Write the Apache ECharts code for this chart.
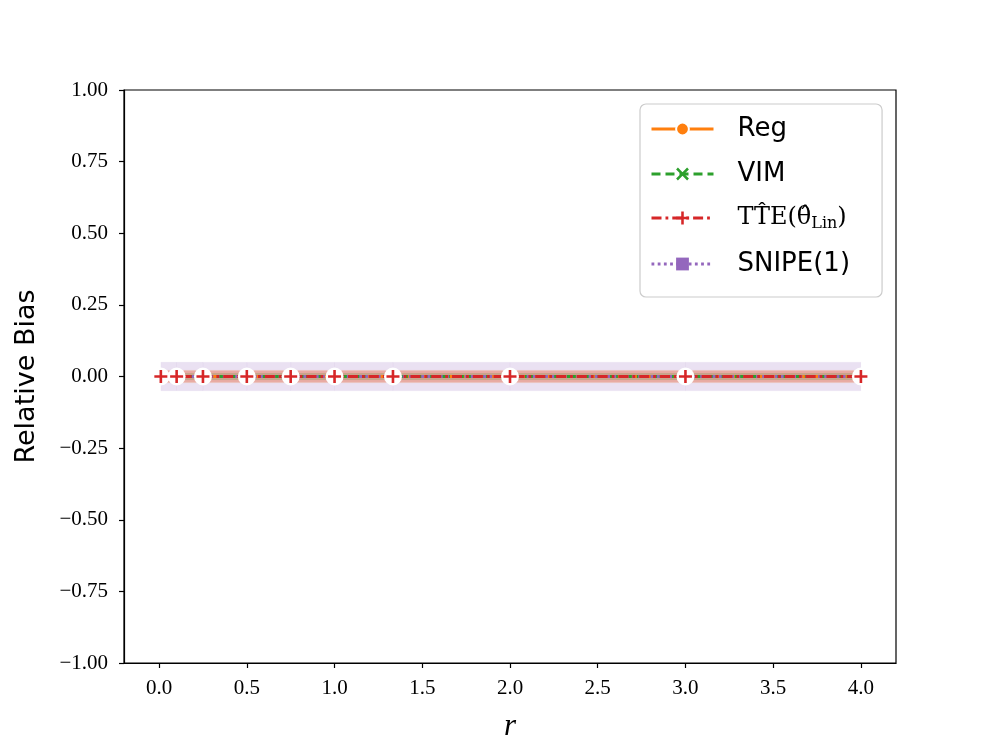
<!DOCTYPE html>
<html>
<head>
<meta charset="utf-8">
<script src="https://cdn.jsdelivr.net/npm/echarts@6/dist/echarts.min.js"></script>
<style>html,body{margin:0;padding:0;background:#fff;}#c{width:996px;height:747px;}</style>
</head>
<body>
<div id="c"></div>
<script>
// ---- data ----
var rValues = [0.01, 0.1, 0.25, 0.5, 0.75, 1.0, 1.333, 2.0, 3.0, 4.0];
var regBias   = [0, 0, 0, 0, 0, 0, 0, 0, 0, 0];
var vimBias   = [0, 0, 0, 0, 0, 0, 0, 0, 0, 0];
var tteBias   = [0, 0, 0, 0, 0, 0, 0, 0, 0, 0];
var snipeBias = [0, 0, 0, 0, 0, 0, 0, 0, 0, 0];
// band half-widths (uncertainty bands)
var regBand   = [0.022, 0.022, 0.022, 0.022, 0.022, 0.022, 0.022, 0.022, 0.022, 0.022];
var vimBand   = [0.012, 0.012, 0.012, 0.012, 0.012, 0.012, 0.012, 0.012, 0.012, 0.012];
var tteBand   = [0.02, 0.02, 0.02, 0.02, 0.02, 0.02, 0.02, 0.02, 0.02, 0.02];
var snipeBand = [0.05, 0.05, 0.05, 0.05, 0.05, 0.05, 0.05, 0.05, 0.05, 0.05];
var xTicks = [0, 0.5, 1.0, 1.5, 2.0, 2.5, 3.0, 3.5, 4.0];
var yTicks = [-1, -0.75, -0.5, -0.25, 0, 0.25, 0.5, 0.75, 1];

var COLORS = {reg:'#ff7f0e', vim:'#2ca02c', tte:'#d62728', snipe:'#9467bd'};
var serif = 'Liberation Serif';
var sans = 'DejaVu Sans';

function pairs(ys){ return rValues.map(function(x,i){ return [x, ys[i]]; }); }

function bandSeries(mean, half, color, opacity){
  var data = rValues.map(function(x,i){ return [x, mean[i]-half[i], mean[i]+half[i]]; });
  return {
    type:'custom', silent:true, z:1,
    data: data,
    encode:{x:0, y:[1,2]},
    renderItem: function(params, api){
      var i = params.dataIndex;
      if (i >= data.length-1) return null;
      var a = api.coord([data[i][0], data[i][1]]);
      var b = api.coord([data[i][0], data[i][2]]);
      var c = api.coord([data[i+1][0], data[i+1][2]]);
      var d = api.coord([data[i+1][0], data[i+1][1]]);
      return {type:'polygon', shape:{points:[a,b,c,d]},
              style:{fill: color, opacity: opacity, stroke: color, lineWidth: 0.6, strokeOpacity: 0.25}};
    }
  };
}

var plusPath = 'path://M-1.2,-6 L1.2,-6 L1.2,-1.2 L6,-1.2 L6,1.2 L1.2,1.2 L1.2,6 L-1.2,6 L-1.2,1.2 L-6,1.2 L-6,-1.2 L-1.2,-1.2 Z';
var crossPath = 'path://M-5,-3.6 L-3.6,-5 L0,-1.4 L3.6,-5 L5,-3.6 L1.4,0 L5,3.6 L3.6,5 L0,1.4 L-3.6,5 L-5,3.6 L-1.4,0 Z';

var chart = echarts.init(document.getElementById('c'), null, {renderer:'canvas'});
var option = {
  animation:false,
  backgroundColor:'#fff',
  grid:{left:124, right:100, top:90, bottom:83, show:true, borderColor:'#000', borderWidth:1.2, backgroundColor:'transparent'},
  xAxis:{
    type:'value', min:-0.2, max:4.2,
    name:'r', nameLocation:'middle', nameGap:48,
    nameTextStyle:{fontFamily:serif, fontStyle:'italic', fontSize:31, color:'#000'},
    axisLine:{show:true, onZero:false, lineStyle:{color:'#000', width:1.2}},
    axisTick:{show:true, customValues:xTicks, length:5, lineStyle:{color:'#000', width:1.2}},
    axisLabel:{customValues:xTicks, margin:15, fontFamily:serif, fontSize:21, color:'#000',
      formatter:function(v){ return v.toFixed(1); }},
    splitLine:{show:false}
  },
  yAxis:{
    type:'value', min:-1, max:1, interval:0.25,
    name:'Relative Bias', nameLocation:'middle', nameGap:84,
    nameTextStyle:{fontFamily:sans, fontSize:27, color:'#000'},
    axisLine:{show:true, onZero:false, lineStyle:{color:'#000', width:1.2}},
    axisTick:{show:true, length:5, lineStyle:{color:'#000', width:1.2}},
    axisLabel:{margin:16, fontFamily:serif, fontSize:21, color:'#000',
      formatter:function(v){ var s=v.toFixed(2); return v<0 ? '\u2212'+s.slice(1) : s; }},
    splitLine:{show:false}
  },
  legend:{
    orient:'vertical', left:640, top:104,
    padding:[12,32,20,10],
    itemWidth:62, itemHeight:16, itemGap:19,
    backgroundColor:'rgba(255,255,255,0.8)', borderColor:'#cccccc', borderWidth:1.2, borderRadius:6,
    data:['Reg','VIM','TTE','SNIPE(1)'],
    lineStyle:{width:3},
    textStyle:{fontFamily:sans, fontSize:26, color:'#000', padding:[0,0,0,19],
      rich:{
        a:{fontFamily:'DejaVu Serif', fontSize:24, color:'#000'},
        b:{fontFamily:'DejaVu Serif', fontSize:24, color:'#000'},
        c:{fontFamily:'DejaVu Serif', fontSize:16, color:'#000', padding:[12,0,0,0]}
      }},
    formatter:function(name){
      if (name==='TTE') return '{a|TT\u0302E(}{b|\u03B8\u0302}{c|Lin}{a|)}';
      return name;
    }
  },
  series:[
    bandSeries(snipeBias, snipeBand, COLORS.snipe, 0.2),
    bandSeries(regBias, regBand, COLORS.reg, 0.2),
    bandSeries(vimBias, vimBand, COLORS.vim, 0.2),
    bandSeries(tteBias, tteBand, COLORS.tte, 0.2),
    {name:'Reg', type:'line', z:3, data:pairs(regBias), symbol:'circle', symbolSize:10,
     itemStyle:{color:COLORS.reg, borderColor:'#fff', borderWidth:1},
     lineStyle:{color:COLORS.reg, width:2.8, type:'solid'}},
    {name:'VIM', type:'line', z:3, data:pairs(vimBias), symbol:crossPath, symbolSize:10,
     itemStyle:{color:COLORS.vim},
     lineStyle:{color:COLORS.vim, width:2.8, type:[9,5]}},
    {name:'SNIPE(1)', type:'line', z:3, data:pairs(snipeBias), symbol:'rect', symbolSize:9,
     itemStyle:{color:COLORS.snipe},
     lineStyle:{color:COLORS.snipe, width:2.8, type:[2.8,3.4]}},
    {name:'halo', type:'line', z:3, data:pairs(tteBias), symbol:'circle', symbolSize:18,
     itemStyle:{color:'#fff'}, lineStyle:{opacity:0}},
    {name:'TTE', type:'line', z:3, data:pairs(tteBias), symbol:plusPath, symbolSize:13,
     itemStyle:{color:COLORS.tte},
     lineStyle:{color:COLORS.tte, width:2.8, type:[10,4,2.8,4]}}
  ]
};
chart.setOption(option);
</script>
</body>
</html>
